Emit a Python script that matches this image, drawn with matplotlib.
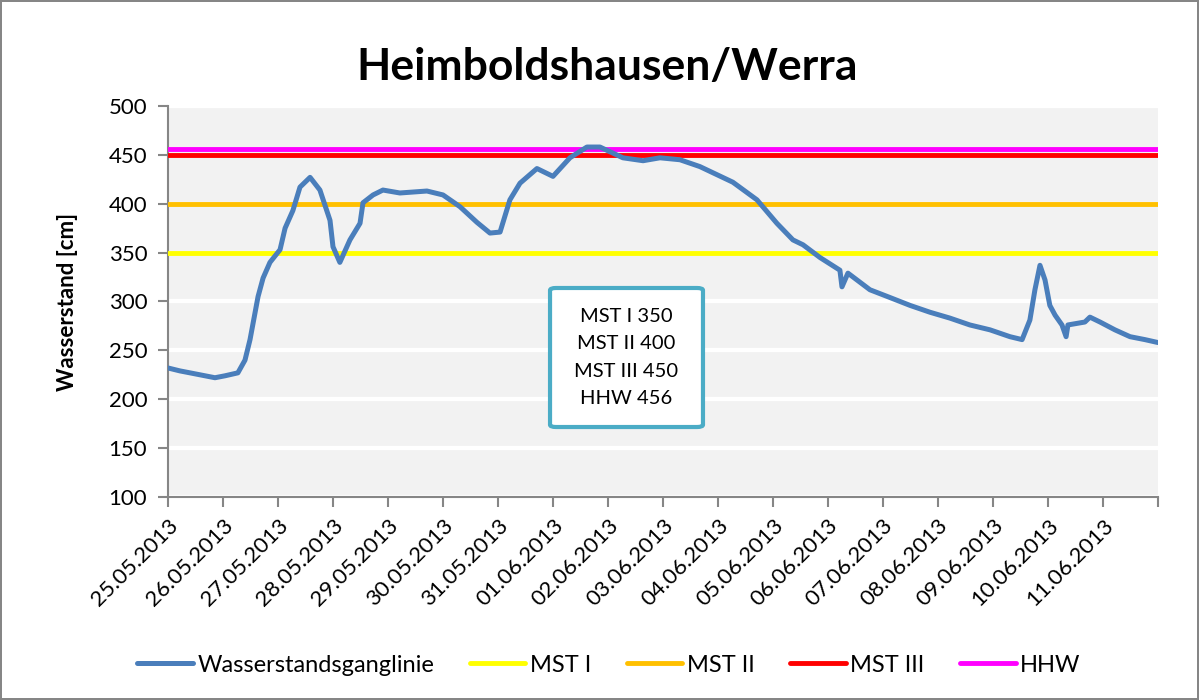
import matplotlib.pyplot as plt
from matplotlib.patches import FancyBboxPatch

# Stunden ab 25.05.2013 00:00 und Wasserstand [cm]
stunden = [0, 5.2, 9.6, 20.5, 24.9, 30.5, 33.6, 35.8, 39.3, 41.5, 44.5, 48.9, 51.1,
           54.5, 57.6, 62.0, 66.3, 70.7, 72.0, 75.0, 79.4, 83.8, 85.1, 89.5, 93.8,
           101.2, 113.0, 120.0, 127.4, 134.8, 140.5, 144.9, 149.2, 153.6, 161.0,
           168.0, 175.4, 182.8, 188.5, 198.5, 207.3, 214.7, 223.4, 232.1, 246.5,
           257.0, 265.7, 272.7, 277.1, 284.5, 293.2, 294.1, 296.7, 306.3, 315.1,
           323.8, 332.5, 341.2, 349.9, 358.7, 367.4, 372.7, 376.1, 378.3, 380.5,
           382.7, 384.8, 387.1, 390.1, 391.9, 392.7, 400.1, 402.3, 406.7, 413.2,
           419.8, 426.3, 432.0]
wasserstand = [232, 229, 227, 222, 224, 227, 240, 261, 305, 324, 340, 353, 375,
               393, 417, 427, 414, 383, 356, 340, 363, 380, 401, 409, 414,
               411, 413, 409, 397, 381, 370, 371, 404, 421, 436,
               428, 447, 458, 458, 447, 444, 447, 445, 438, 422,
               404, 380, 363, 358, 345, 332, 315, 329, 312, 304,
               296, 289, 283, 276, 271, 264, 261, 281, 312, 337,
               322, 296, 286, 276, 264, 276, 279, 284, 279, 271,
               264, 261, 258]

datum = ["25.05.2013", "26.05.2013", "27.05.2013", "28.05.2013", "29.05.2013",
         "30.05.2013", "31.05.2013", "01.06.2013", "02.06.2013", "03.06.2013",
         "04.06.2013", "05.06.2013", "06.06.2013", "07.06.2013", "08.06.2013",
         "09.06.2013", "10.06.2013", "11.06.2013", ""]

grenz_namen = ["MST I", "MST II", "MST III", "HHW"]
grenz_werte = [350, 400, 450, 456]
grenz_farben = ["#FFFF00", "#FFC000", "#FF0000", "#FF00FF"]

plt.rcParams['font.family'] = ['Lato', 'DejaVu Sans']

fig = plt.figure(figsize=(11.99, 7.0), dpi=100)
fig.patch.set_edgecolor("#868686")
fig.patch.set_linewidth(1.5)
ax = fig.add_axes([0.1401, 0.29, 0.8257, 0.5586])
ax.set_facecolor("#F2F2F2")

ax.set_ylim(100, 500)
ax.set_yticks(range(100, 501, 50))
ax.yaxis.grid(True, color="white", linewidth=3)
ax.set_axisbelow(True)

x0, x1 = 0, 432
ax.set_xlim(x0, x1)
ax.set_xticks(range(0, 433, 24))
ax.set_xticklabels(datum, rotation=45, ha="right", va="top", rotation_mode="anchor", fontsize=16)
ax.tick_params(axis="y", labelsize=16, length=7, color="#868686", width=1.5, pad=8)
ax.tick_params(axis="x", length=7, color="#868686", width=1.5, pad=6)

for s in ["top", "right"]:
    ax.spines[s].set_visible(False)
for s in ["left", "bottom"]:
    ax.spines[s].set_color("#868686")
    ax.spines[s].set_linewidth(1.5)

linien = []
l, = ax.plot(stunden, wasserstand, color="#4A7EBB", linewidth=3.6,
             solid_capstyle="round", solid_joinstyle="round", zorder=5)
linien.append(l)
for name, wert, farbe in zip(grenz_namen, grenz_werte, grenz_farben):
    l, = ax.plot([x0, x1], [wert, wert], color=farbe, linewidth=3.5,
                 solid_capstyle="round", zorder=4)
    linien.append(l)

ax.set_ylabel("Wasserstand [cm]", fontsize=16, fontweight="bold", labelpad=22)
fig.text(0.506, 0.905, "Heimboldshausen/Werra", ha="center", va="center",
         fontsize=32, fontweight="bold")

# Textfeld
ax.add_patch(FancyBboxPatch((0.3859, 0.179), 0.1545, 0.3555, transform=ax.transAxes,
                            boxstyle="round,pad=0,rounding_size=0.006",
                            facecolor="white", edgecolor="#4BACC6", linewidth=3, zorder=6))
ax.text(0.4631, 0.357, "\n".join(f"{n} {w}" for n, w in zip(grenz_namen, grenz_werte)),
        transform=ax.transAxes, ha="center", va="center", fontsize=14.5,
        linespacing=1.75, zorder=7)

fig.legend(linien, ["Wasserstandsganglinie"] + grenz_namen, loc="center",
           bbox_to_anchor=(0.508, 0.05), ncol=5, frameon=False, fontsize=17,
           handlelength=2.35, columnspacing=1.5, handletextpad=0.2)

fig.savefig("out.png", dpi=100, edgecolor=fig.get_edgecolor())
